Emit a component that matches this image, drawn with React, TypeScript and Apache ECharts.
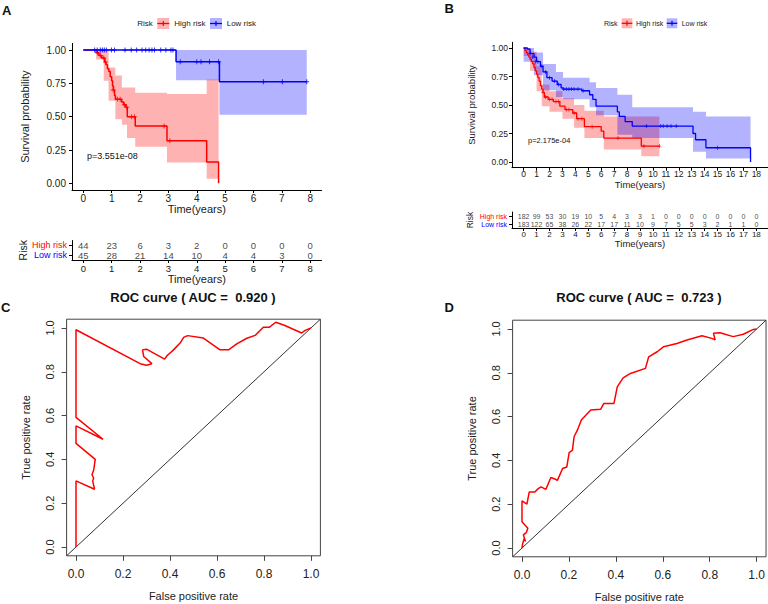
import React, { useEffect, useRef } from 'react';
import * as echarts from 'echarts';

const FONT = '"Liberation Sans", Arial, Helvetica, sans-serif';
const RED = '#FF0000';
const BLUE = '#0000FF';
const RED_FILL = 'rgba(255,0,0,0.3)';
const BLUE_FILL = 'rgba(0,0,255,0.3)';

// ---------------- Panel A (Kaplan-Meier, training set) ----------------
const yearTicksA = [0, 1, 2, 3, 4, 5, 6, 7, 8];
const survTicks = [0, 0.25, 0.5, 0.75, 1];
const highTimeA = [0, 0.45, 0.55, 0.65, 0.75, 0.8, 0.85, 0.9, 0.95, 1.0, 1.03, 1.06, 1.1, 1.13, 1.35, 1.42, 1.5, 1.55, 1.83, 2.95, 4.35, 4.77];
const highSurvA = [1, 0.98, 0.96, 0.94, 0.91, 0.89, 0.86, 0.84, 0.8, 0.77, 0.73, 0.7, 0.66, 0.63, 0.61, 0.59, 0.57, 0.5, 0.43, 0.32, 0.16, 0];
const lowTimeA = [0, 3.27, 4.8, 7.88];
const lowSurvA = [1, 0.913, 0.762, 0.762];
const highCensorTimeA = [0.5, 0.6, 0.72, 0.78, 1.05, 1.2, 1.3, 1.45, 1.53, 1.7, 1.8, 2.85, 3.05];
const highCensorSurvA = [0.98, 0.96, 0.94, 0.91, 0.7, 0.63, 0.63, 0.59, 0.57, 0.5, 0.5, 0.43, 0.32];
const lowCensorTimeA = [0.4, 0.49, 0.6, 0.67, 0.74, 0.81, 0.99, 1.1, 1.47, 1.69, 1.88, 2.07, 2.2, 2.32, 2.42, 2.51, 2.73, 2.91, 3.09, 3.16, 3.42, 4.0, 4.15, 4.45, 4.77, 6.35, 7.02, 7.88];
const lowCensorSurvA = [1, 1, 1, 1, 1, 1, 1, 1, 1, 1, 1, 1, 1, 1, 1, 1, 1, 1, 1, 1, 0.913, 0.913, 0.913, 0.913, 0.913, 0.762, 0.762, 0.762];
// confidence band steps: [start, end, lower, upper]
const highBandA = [
  [0.45, 0.72, 0.93, 1.0],
  [0.72, 0.89, 0.77, 1.0],
  [0.89, 1.13, 0.62, 0.87],
  [1.13, 1.36, 0.48, 0.81],
  [1.36, 1.54, 0.44, 0.72],
  [1.54, 1.83, 0.34, 0.72],
  [1.83, 2.95, 0.275, 0.68],
  [2.95, 4.35, 0.157, 0.67],
  [4.35, 4.77, 0.035, 0.78],
];
const lowBandA = [
  [3.27, 4.8, 0.773, 1.0],
  [4.8, 7.88, 0.515, 1.0],
];
const atRiskHighA = [44, 23, 6, 3, 2, 0, 0, 0, 0];
const atRiskLowA = [45, 28, 21, 14, 10, 4, 4, 3, 0];

// ---------------- Panel B (Kaplan-Meier, validation set) ----------------
const yearTicksB = [0, 1, 2, 3, 4, 5, 6, 7, 8, 9, 10, 11, 12, 13, 14, 15, 16, 17, 18];
const highTimeB = [0, 0.1, 0.2, 0.3, 0.4, 0.5, 0.6, 0.7, 0.8, 0.9, 1.0, 1.1, 1.2, 1.3, 1.4, 1.5, 1.6, 1.9, 2.3, 2.8, 3.2, 3.8, 4.1, 4.7, 6.0, 6.2, 9.1, 10.5];
const highSurvB = [1, 0.98, 0.96, 0.94, 0.92, 0.9, 0.88, 0.86, 0.83, 0.8, 0.77, 0.74, 0.71, 0.67, 0.64, 0.61, 0.57, 0.55, 0.53, 0.49, 0.46, 0.43, 0.38, 0.31, 0.27, 0.21, 0.14, 0.14];
const lowTimeB = [0, 0.3, 0.5, 0.8, 1.0, 1.3, 1.5, 1.8, 2.2, 2.6, 2.9, 3.05, 4.5, 5.1, 5.35, 5.6, 7.25, 7.4, 7.85, 8.4, 13.1, 13.3, 14.1, 17.55];
const lowSurvB = [1, 0.99, 0.95, 0.92, 0.88, 0.84, 0.79, 0.74, 0.71, 0.68, 0.65, 0.64, 0.625, 0.59, 0.55, 0.49, 0.44, 0.4, 0.355, 0.315, 0.25, 0.195, 0.125, 0];
const highCensorTimeB = [1.5, 1.7, 2.0, 2.2, 2.5, 2.7, 3.3, 3.5, 3.9, 4.2, 4.5, 5.3, 7.3, 9.3, 10.5];
const highCensorSurvB = [0.61, 0.57, 0.55, 0.55, 0.53, 0.53, 0.46, 0.46, 0.43, 0.38, 0.38, 0.31, 0.21, 0.14, 0.14];
const lowCensorTimeB = [0.5, 0.7, 0.9, 1.1, 1.4, 1.7, 2.0, 2.4, 2.7, 3.1, 3.3, 3.5, 3.7, 3.9, 4.2, 4.6, 9.5, 10.6, 10.8, 11.1, 11.4, 11.8, 15.0];
const lowCensorSurvB = [0.95, 0.92, 0.88, 0.88, 0.84, 0.79, 0.74, 0.71, 0.68, 0.64, 0.64, 0.64, 0.64, 0.64, 0.64, 0.625, 0.315, 0.315, 0.315, 0.315, 0.315, 0.315, 0.125];
const highBandB = [
  [0, 0.5, 0.93, 1.0],
  [0.5, 1.0, 0.8, 0.97],
  [1.0, 1.4, 0.62, 0.84],
  [1.4, 2.0, 0.49, 0.68],
  [2.0, 3.0, 0.44, 0.62],
  [3.0, 3.9, 0.38, 0.56],
  [3.9, 4.7, 0.3, 0.5],
  [4.7, 6.2, 0.21, 0.45],
  [6.2, 9.1, 0.11, 0.4],
  [9.1, 10.5, 0.05, 0.4],
];
const lowBandB = [
  [0, 0.8, 0.88, 1.0],
  [0.8, 1.5, 0.76, 0.96],
  [1.5, 2.5, 0.63, 0.86],
  [2.5, 3.05, 0.57, 0.79],
  [3.05, 5.1, 0.55, 0.74],
  [5.1, 5.6, 0.48, 0.7],
  [5.6, 7.25, 0.41, 0.65],
  [7.25, 8.4, 0.24, 0.59],
  [8.4, 13.1, 0.21, 0.48],
  [13.1, 14.1, 0.09, 0.44],
  [14.1, 17.55, 0.03, 0.4],
];
const atRiskHighB = [182, 99, 53, 30, 19, 10, 5, 4, 3, 3, 1, 0, 0, 0, 0, 0, 0, 0, 0];
const atRiskLowB = [183, 122, 65, 38, 26, 22, 17, 17, 11, 10, 9, 7, 5, 5, 3, 2, 1, 1, 0];

// ---------------- Panel C / D (ROC curves) ----------------
const rocTicks = [0, 0.2, 0.4, 0.6, 0.8, 1.0];
const fprC = [0, 0, 0.079, 0.071, 0.075, 0.068, 0.075, 0.082, 0, 0, 0.115, 0, 0, 0.273, 0.3, 0.323, 0.288, 0.283, 0.3, 0.377, 0.387, 0.415, 0.429, 0.443, 0.458, 0.475, 0.542, 0.613, 0.649, 0.684, 0.727, 0.762, 0.797, 0.822, 0.85, 0.889, 0.96, 0.975, 1.0];
const tprC = [0, 0.302, 0.264, 0.301, 0.315, 0.33, 0.35, 0.4, 0.473, 0.553, 0.492, 0.592, 0.992, 0.837, 0.83, 0.837, 0.87, 0.9, 0.903, 0.858, 0.873, 0.9, 0.916, 0.931, 0.957, 0.965, 0.954, 0.9, 0.9, 0.927, 0.953, 0.966, 1.003, 1.003, 1.026, 1.011, 0.977, 0.989, 1.0];
const fprD = [0, 0.003, 0.01, 0.015, 0.006, 0.018, 0.025, 0, 0, 0.021, 0.031, 0.055, 0.068, 0.081, 0.102, 0.123, 0.14, 0.151, 0.173, 0.191, 0.201, 0.215, 0.222, 0.236, 0.253, 0.293, 0.335, 0.349, 0.392, 0.406, 0.431, 0.462, 0.526, 0.54, 0.576, 0.604, 0.66, 0.703, 0.767, 0.809, 0.823, 0.816, 0.844, 0.9, 0.943, 0.986, 1.0];
const tprD = [0, 0.02, 0.045, 0.03, 0.06, 0.07, 0.09, 0.12, 0.215, 0.2, 0.256, 0.256, 0.27, 0.279, 0.268, 0.322, 0.315, 0.309, 0.363, 0.37, 0.436, 0.447, 0.508, 0.538, 0.584, 0.63, 0.633, 0.66, 0.66, 0.736, 0.777, 0.797, 0.82, 0.873, 0.896, 0.919, 0.934, 0.95, 0.969, 0.957, 0.95, 0.98, 0.983, 0.965, 0.976, 0.998, 1.0];

const PLUS = 'path://M4,0H6V4H10V6H6V10H4V6H0V4H4Z';

const zip = (a: number[], b: number[]) => a.map((v, i) => [v, b[i]]);

function bandSeries(name: string, rows: number[][], color: string, axis: number) {
  return {
    type: 'custom',
    name,
    xAxisIndex: axis,
    yAxisIndex: axis,
    data: rows,
    encode: { x: [0, 1], y: [2, 3] },
    silent: true,
    z: 1,
    renderItem: (params: any, api: any) => {
      if (params.dataIndexInside !== 0) return null;
      const n = params.dataInsideLength;
      const upper: number[][] = [];
      const lower: number[][] = [];
      for (let i = 0; i < n; i++) {
        const t0 = api.value(0, i);
        const t1 = api.value(1, i);
        const lo = api.value(2, i);
        const hi = api.value(3, i);
        upper.push(api.coord([t0, hi]), api.coord([t1, hi]));
        lower.push(api.coord([t0, lo]), api.coord([t1, lo]));
      }
      return {
        type: 'polygon',
        shape: { points: upper.concat(lower.reverse()) },
        style: { fill: color },
      };
    },
  };
}

function kmLine(name: string, t: number[], s: number[], color: string, axis: number, width: number) {
  return {
    type: 'line',
    name,
    xAxisIndex: axis,
    yAxisIndex: axis,
    data: zip(t, s),
    step: 'end',
    symbol: 'none',
    lineStyle: { color, width },
    z: 3,
    silent: true,
  };
}

function censor(name: string, t: number[], s: number[], color: string, axis: number, size: number) {
  return {
    type: 'scatter',
    name,
    xAxisIndex: axis,
    yAxisIndex: axis,
    data: zip(t, s),
    symbol: PLUS,
    symbolSize: size,
    itemStyle: { color },
    z: 4,
    silent: true,
  };
}

function tableSeries(name: string, years: number[], counts: number[], row: number, axis: number, fontSize: number) {
  return {
    type: 'scatter',
    name,
    xAxisIndex: axis,
    yAxisIndex: axis,
    data: years.map((y, i) => [y, row, counts[i]]),
    symbolSize: 1,
    itemStyle: { color: 'rgba(0,0,0,0)' },
    label: {
      show: true,
      position: 'inside',
      formatter: (p: any) => String(p.value[2]),
      color: '#111',
      fontSize,
      fontFamily: FONT,
    },
    labelLayout: { hideOverlap: false },
    silent: true,
  };
}

function kmX(grid: number, min: number, max: number, ticks: number[], fs: number, margin: number, nameFs: number, nameGap: number) {
  return {
    type: 'value',
    gridIndex: grid,
    min,
    max,
    axisLine: { show: true, onZero: false, lineStyle: { color: '#000', width: 1 } },
    axisTick: { show: true, length: 3, customValues: ticks, lineStyle: { color: '#000' } },
    axisLabel: { customValues: ticks, fontSize: fs, margin, color: '#1a1a1a', fontFamily: FONT },
    splitLine: { show: false },
    name: 'Time(years)',
    nameLocation: 'middle',
    nameGap,
    nameTextStyle: { fontSize: nameFs, color: '#1a1a1a', fontFamily: FONT },
  };
}

function kmY(grid: number, fs: number, margin: number, nameFs: number, nameGap: number) {
  return {
    type: 'value',
    gridIndex: grid,
    min: -0.05,
    max: 1.05,
    axisLine: { show: true, onZero: false, lineStyle: { color: '#000', width: 1 } },
    axisTick: { show: true, length: 3, customValues: survTicks, lineStyle: { color: '#000' } },
    axisLabel: { customValues: survTicks, formatter: (v: number) => v.toFixed(2), fontSize: fs, margin, color: '#1a1a1a', fontFamily: FONT },
    splitLine: { show: false },
    name: 'Survival probability',
    nameLocation: 'middle',
    nameGap,
    nameRotate: 90,
    nameTextStyle: { fontSize: nameFs, color: '#1a1a1a', fontFamily: FONT },
  };
}

function tableY(grid: number, fs: number, nameFs: number, nameGap: number) {
  return {
    type: 'category',
    gridIndex: grid,
    data: ['Low risk', 'High risk'],
    axisLine: { show: true, onZero: false, lineStyle: { color: '#000', width: 1 } },
    axisTick: { show: true, length: 3, interval: 0, alignWithLabel: true, lineStyle: { color: '#000' } },
    axisLabel: {
      margin: 5,
      interval: 0,
      hideOverlap: false,
      formatter: (v: string) => (v === 'High risk' ? `{h|${v}}` : `{l|${v}}`),
      rich: {
        h: { color: RED, fontSize: fs, fontFamily: FONT },
        l: { color: BLUE, fontSize: fs, fontFamily: FONT },
      },
    },
    splitLine: { show: false },
    name: 'Risk',
    nameLocation: 'middle',
    nameGap,
    nameRotate: 90,
    nameTextStyle: { fontSize: nameFs, color: '#1a1a1a', fontFamily: FONT },
  };
}

function rocX(grid: number) {
  return {
    type: 'value',
    gridIndex: grid,
    min: -0.04,
    max: 1.04,
    axisLine: { show: false, onZero: false },
    axisTick: { show: true, length: 5, customValues: rocTicks, lineStyle: { color: '#444' } },
    axisLabel: { customValues: rocTicks, formatter: (v: number) => v.toFixed(1), fontSize: 12, margin: 12, color: '#222', fontFamily: FONT },
    splitLine: { show: false },
    name: 'False positive rate',
    nameLocation: 'middle',
    nameGap: 35,
    nameTextStyle: { fontSize: 11, color: '#222', fontFamily: FONT },
  };
}

function rocY(grid: number) {
  return {
    type: 'value',
    gridIndex: grid,
    min: -0.04,
    max: 1.04,
    axisLine: { show: false, onZero: false },
    axisTick: { show: true, length: 5, customValues: rocTicks, lineStyle: { color: '#444' } },
    axisLabel: { customValues: rocTicks, formatter: (v: number) => v.toFixed(1), rotate: 90, fontSize: 11, margin: 11, color: '#222', fontFamily: FONT },
    splitLine: { show: false },
    name: 'True positive rate',
    nameLocation: 'middle',
    nameGap: 35,
    nameRotate: 90,
    nameTextStyle: { fontSize: 11, color: '#222', fontFamily: FONT },
  };
}

function legendGroup(y: number, fs: number, xs: number[], iw: number, ih: number) {
  // xs: [riskText, icon1, text1, icon2, text2]
  const icon = (ix: number, fill: string, color: string) => [
    { type: 'rect', shape: { x: ix, y: y - ih / 2, width: iw, height: ih }, style: { fill } },
    { type: 'line', shape: { x1: ix, y1: y, x2: ix + iw, y2: y }, style: { stroke: color, lineWidth: 1.3 } },
    { type: 'line', shape: { x1: ix + iw / 2, y1: y - 2.5, x2: ix + iw / 2, y2: y + 2.5 }, style: { stroke: color, lineWidth: 1.2 } },
  ];
  const txt = (tx: number, text: string) => ({
    type: 'text',
    style: { text, x: tx, y, font: `${fs}px ${FONT}`, fill: '#1a1a1a', align: 'left', verticalAlign: 'middle' },
  });
  return {
    type: 'group',
    children: [
      txt(xs[0], 'Risk'),
      ...icon(xs[1], RED_FILL, RED),
      txt(xs[2], 'High risk'),
      ...icon(xs[3], BLUE_FILL, BLUE),
      txt(xs[4], 'Low risk'),
    ],
  };
}

const plainText = (text: string, x: number, y: number, font: string, align = 'left') => ({
  type: 'text',
  style: { text, x, y, font, fill: '#111', align, verticalAlign: 'middle' },
});

export default function App() {
  const ref = useRef<HTMLDivElement>(null);
  useEffect(() => {
    if (!ref.current) return;
    const chart = echarts.init(ref.current, undefined, { renderer: 'svg' });
    const option: any = {
      animation: false,
      backgroundColor: '#fff',
      grid: [
        { left: 72, top: 43.4, width: 249.5, height: 146.6 },
        { left: 72, top: 240.5, width: 249.5, height: 19.5 },
        { left: 512, top: 42.3, width: 261, height: 125.4 },
        { left: 512, top: 212, width: 261, height: 16 },
        { left: 66.6, top: 319.2, width: 253.8, height: 236.6, show: true, borderColor: '#444', borderWidth: 1, backgroundColor: 'transparent' },
        { left: 512.6, top: 320.2, width: 253.8, height: 236.6, show: true, borderColor: '#444', borderWidth: 1, backgroundColor: 'transparent' },
      ],
      xAxis: [
        kmX(0, -0.4, 8.4, yearTicksA, 10, 3, 11, 12),
        kmX(1, -0.4, 8.4, yearTicksA, 9.5, 3, 11, 12),
        kmX(2, -0.9, 18.9, yearTicksB, 8.5, 2, 9.5, 11),
        kmX(3, -0.9, 18.9, yearTicksB, 8, 2, 9.5, 10),
        rocX(4),
        rocX(5),
      ],
      yAxis: [
        kmY(0, 10, 6, 11, 42),
        tableY(1, 9, 10.5, 44),
        kmY(2, 8.5, 4, 9.5, 36),
        tableY(3, 7, 8.5, 38),
        rocY(4),
        rocY(5),
      ],
      series: [
        bandSeries('High risk CI A', highBandA, RED_FILL, 0),
        bandSeries('Low risk CI A', lowBandA, BLUE_FILL, 0),
        kmLine('High risk A', highTimeA, highSurvA, RED, 0, 1.5),
        kmLine('Low risk A', lowTimeA, lowSurvA, BLUE, 0, 1.5),
        censor('High risk censored A', highCensorTimeA, highCensorSurvA, RED, 0, 5),
        censor('Low risk censored A', lowCensorTimeA, lowCensorSurvA, BLUE, 0, 5),
        tableSeries('High risk at risk A', yearTicksA, atRiskHighA, 1, 1, 9.5),
        tableSeries('Low risk at risk A', yearTicksA, atRiskLowA, 0, 1, 9.5),

        bandSeries('High risk CI B', highBandB, RED_FILL, 2),
        bandSeries('Low risk CI B', lowBandB, BLUE_FILL, 2),
        kmLine('High risk B', highTimeB, highSurvB, RED, 2, 1.3),
        kmLine('Low risk B', lowTimeB, lowSurvB, BLUE, 2, 1.3),
        censor('High risk censored B', highCensorTimeB, highCensorSurvB, RED, 2, 4),
        censor('Low risk censored B', lowCensorTimeB, lowCensorSurvB, BLUE, 2, 4),
        tableSeries('High risk at risk B', yearTicksB, atRiskHighB, 1, 3, 7),
        tableSeries('Low risk at risk B', yearTicksB, atRiskLowB, 0, 3, 7),

        {
          type: 'line', name: 'Reference C', xAxisIndex: 4, yAxisIndex: 4,
          data: [[-0.04, -0.04], [1.04, 1.04]], symbol: 'none', silent: true,
          lineStyle: { color: '#333', width: 1 },
        },
        {
          type: 'line', name: 'ROC C', xAxisIndex: 4, yAxisIndex: 4,
          data: zip(fprC, tprC), symbol: 'none', silent: true,
          lineStyle: { color: RED, width: 1.5 }, z: 3,
        },
        {
          type: 'line', name: 'Reference D', xAxisIndex: 5, yAxisIndex: 5,
          data: [[-0.04, -0.04], [1.04, 1.04]], symbol: 'none', silent: true,
          lineStyle: { color: '#333', width: 1 },
        },
        {
          type: 'line', name: 'ROC D', xAxisIndex: 5, yAxisIndex: 5,
          data: zip(fprD, tprD), symbol: 'none', silent: true,
          lineStyle: { color: RED, width: 1.5 }, z: 3,
        },
      ],
      graphic: [
        plainText('A', 2, 10, `bold 13px ${FONT}`),
        plainText('B', 444.5, 8, `bold 13px ${FONT}`),
        plainText('C', 1, 307, `bold 13px ${FONT}`),
        plainText('D', 444.5, 307, `bold 13px ${FONT}`),
        plainText('ROC curve ( AUC =  0.920 )', 193, 297, `bold 13px ${FONT}`, 'center'),
        plainText('ROC curve ( AUC =  0.723 )', 639, 297, `bold 13px ${FONT}`, 'center'),
        plainText('p=3.551e-08', 87, 156, `9px ${FONT}`),
        plainText('p=2.175e-04', 528, 140, `7.5px ${FONT}`),
        legendGroup(23.5, 8, [137.3, 157.3, 174.3, 210, 226.7], 12, 11),
        legendGroup(23.3, 7, [604, 621.7, 636, 666.7, 681.7], 10.6, 10),
      ],
    };
    chart.setOption(option);
    return () => chart.dispose();
  }, []);
  return <div ref={ref} style={{ position: 'absolute', left: 0, top: 0, width: 768, height: 604 }} />;
}
